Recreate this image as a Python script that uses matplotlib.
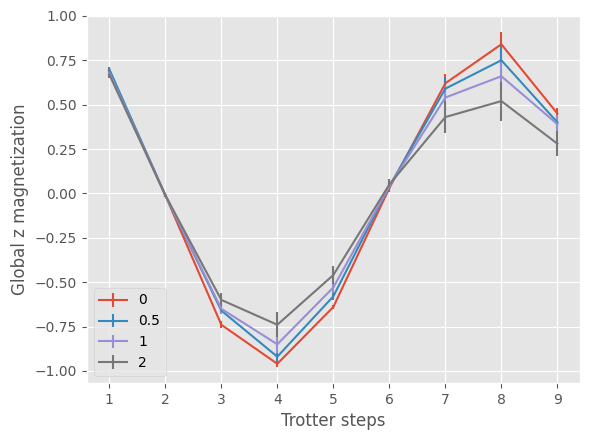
import numpy as np
import matplotlib
matplotlib.use("Agg")
import matplotlib.pyplot as plt

plt.style.use("ggplot")

steps = [1, 2, 3, 4, 5, 6, 7, 8, 9]
labels = ["0", "0.5", "1", "2"]

mag_0 = [0.69, -0.01, -0.74, -0.96, -0.64, 0.03, 0.62, 0.84, 0.45]
mag_05 = [0.70, -0.01, -0.66, -0.92, -0.58, 0.04, 0.59, 0.75, 0.40]
mag_1 = [0.68, -0.01, -0.65, -0.85, -0.53, 0.04, 0.54, 0.66, 0.39]
mag_2 = [0.67, -0.01, -0.60, -0.74, -0.46, 0.05, 0.43, 0.52, 0.28]

err_0 = [0.01, 0.01, 0.02, 0.02, 0.01, 0.02, 0.05, 0.07, 0.03]
err_05 = [0.01, 0.01, 0.02, 0.03, 0.02, 0.02, 0.06, 0.08, 0.04]
err_1 = [0.01, 0.01, 0.03, 0.05, 0.03, 0.02, 0.07, 0.09, 0.05]
err_2 = [0.02, 0.01, 0.04, 0.07, 0.05, 0.03, 0.09, 0.11, 0.07]

series = [mag_0, mag_05, mag_1, mag_2]
errors = [err_0, err_05, err_1, err_2]

fig, ax = plt.subplots(figsize=(5.91, 4.41), dpi=100)
fig.subplots_adjust(left=0.147, right=0.981, top=0.964, bottom=0.132)

for vals, errs, lab in zip(series, errors, labels):
    ax.errorbar(steps, vals, yerr=errs, label=lab)

ax.set_xticks(steps)
ax.set_ylim(-1.067, 1.0)
ax.set_xlabel("Trotter steps")
ax.set_ylabel("Global z magnetization")
ax.legend(loc="lower left")

fig.savefig("out.png")
